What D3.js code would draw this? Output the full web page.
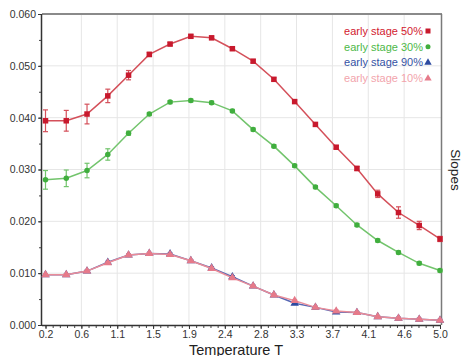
<!DOCTYPE html>
<html><head><meta charset="utf-8">
<script src="https://cdn.jsdelivr.net/npm/d3@7"></script>
<style>body{margin:0;background:#fff}svg{display:block;font-family:"Liberation Sans",Arial,sans-serif}</style>
</head><body>
<svg id="c" width="467" height="356"></svg>
<script>
const xStart = 0.2, xEnd = 5.0, nPts = 20;
const temps = d3.range(nPts).map(i => xStart + i * (xEnd - xStart) / (nPts - 1));
const xTickValues = d3.range(12).map(k => xStart + k * (xEnd - xStart) / 11);
const xTickLabels = ["0.2","0.6","1.1","1.5","1.9","2.4","2.8","3.3","3.7","4.1","4.6","5.0"];
const yTickValues = [0, 0.01, 0.02, 0.03, 0.04, 0.05, 0.06];
const yTickLabels = ["0.000","0.010","0.020","0.030","0.040","0.050","0.060"];

const seriesNames = ["early stage 50%", "early stage 30%", "early stage 90%", "early stage 10%"];
const s50 = [0.0394,0.0394,0.0407,0.0442,0.0482,0.0522,0.0542,0.0557,0.0554,0.0533,0.0509,0.0474,0.0431,0.0387,0.0343,0.0302,0.0253,0.0217,0.0192,0.0166];
const e50 = [0.0021,0.0020,0.0019,0.0013,0.0009,0.0004,0.0003,0.0003,0.0003,0.0003,0.0003,0.0003,0.0003,0.0003,0.0003,0.0004,0.0007,0.0011,0.0008,0.0005];
const s30 = [0.0280,0.0283,0.0298,0.0329,0.0370,0.0407,0.0430,0.0433,0.0429,0.0413,0.0377,0.0345,0.0307,0.0266,0.0230,0.0193,0.0163,0.0140,0.0119,0.0105];
const e30 = [0.0018,0.0016,0.0014,0.0011,0.0004,0.0003,0.0003,0.0003,0.0003,0.0003,0.0003,0.0003,0.0003,0.0003,0.0003,0.0003,0.0003,0.0003,0.0003,0.0003];
const s90 = [0.0097,0.0097,0.0104,0.0121,0.0135,0.0138,0.0137,0.0124,0.0110,0.0093,0.0075,0.0058,0.0042,0.0034,0.0025,0.0024,0.0016,0.0013,0.0011,0.0009];
const e90 = [0.0002,0.0002,0.0002,0.0002,0.0002,0.0002,0.0002,0.0002,0.0002,0.0002,0.0002,0.0002,0.0002,0.0002,0.0002,0.0002,0.0002,0.0002,0.0002,0.0002];
const s10 = [0.0097,0.0097,0.0104,0.0120,0.0135,0.0138,0.0136,0.0124,0.0109,0.0091,0.0075,0.0058,0.0047,0.0034,0.0027,0.0024,0.0016,0.0013,0.0011,0.0009];
const e10 = [0.0002,0.0002,0.0002,0.0002,0.0002,0.0002,0.0002,0.0002,0.0002,0.0002,0.0002,0.0002,0.0002,0.0002,0.0002,0.0002,0.0002,0.0002,0.0002,0.0002];

const series = [
  {name: seriesNames[0], v: s50, e: e50, line: "#d4505a", mark: "#c8192d", text: "#d2202f", shape: "square"},
  {name: seriesNames[1], v: s30, e: e30, line: "#72c46c", mark: "#40ae3e", text: "#4db848", shape: "circle"},
  {name: seriesNames[2], v: s90, e: e90, line: "#5868b4", mark: "#2c4aa0", text: "#3452a4", shape: "triangle"},
  {name: seriesNames[3], v: s10, e: e10, line: "#ea8c98", mark: "#e67a8a", text: "#f2a4ac", shape: "triangle"}
];

const svg = d3.select("#c");
const L = 42, R = 441, T = 14, B = 325;
const x = d3.scaleLinear().domain([xStart, xEnd]).range([45.5, 440]);
const y = d3.scaleLinear().domain([0, 0.06]).range([B, T]);

// gridlines
svg.append("g").selectAll("line").data(xTickValues.slice(1, -1)).join("line")
  .attr("x1", d => x(d)).attr("x2", d => x(d)).attr("y1", T).attr("y2", B)
  .attr("stroke", "#e6e6e6").attr("stroke-width", 1);
svg.append("g").selectAll("line").data(yTickValues.slice(1, -1)).join("line")
  .attr("x1", L).attr("x2", R).attr("y1", d => y(d)).attr("y2", d => y(d))
  .attr("stroke", "#e6e6e6").attr("stroke-width", 1);

// border top/right
svg.append("line").attr("x1", L).attr("x2", R + 1).attr("y1", T).attr("y2", T).attr("stroke", "#8a8a8a").attr("stroke-width", 2);
svg.append("line").attr("x1", R + 0.5).attr("x2", R + 0.5).attr("y1", T).attr("y2", B).attr("stroke", "#7a7a7a").attr("stroke-width", 1.5);

// axes
const xMinor = d3.range(56).map(k => xStart + k * (xEnd - xStart) / 55);
const xAxisMinor = d3.axisBottom(x).tickValues(xMinor).tickSize(3).tickFormat("");
svg.append("g").attr("transform", `translate(0,${B})`).call(xAxisMinor)
  .call(g => g.select(".domain").remove()).selectAll("line").attr("stroke", "#444");
const xAxis = d3.axisBottom(x).tickValues(xTickValues).tickSize(4).tickPadding(2)
  .tickFormat((d, i) => xTickLabels[i]);
const gx = svg.append("g").attr("transform", `translate(0,${B})`).call(xAxis);
gx.select(".domain").attr("d", `M${L},0.5H${R}`).attr("stroke", "#333").attr("stroke-width", 1.5);
gx.selectAll("text").attr("font-size", 10.5).attr("fill", "#333");
gx.selectAll("line").attr("stroke", "#333");

const yMinor = d3.range(13).map(k => k * 0.005);
svg.append("g").attr("transform", `translate(${L},0)`)
  .call(d3.axisLeft(y).tickValues(yMinor).tickSize(3).tickFormat(""))
  .call(g => g.select(".domain").remove()).selectAll("line").attr("stroke", "#444");
const gy = svg.append("g").attr("transform", `translate(${L},0)`)
  .call(d3.axisLeft(y).tickValues(yTickValues).tickSize(4).tickPadding(2).tickFormat((d, i) => yTickLabels[i]));
gy.select(".domain").attr("d", `M-0.5,${T}V${B}`).attr("stroke", "#333").attr("stroke-width", 1.5);
gy.selectAll("text").attr("font-size", 10.5).attr("fill", "#333");
gy.selectAll("line").attr("stroke", "#333");

// series
const lineGen = d3.line().x((d, i) => x(temps[i])).y(d => y(d));
function marker(g, shape, color, size) {
  if (shape === "square") g.append("rect").attr("x", -size/2).attr("y", -size/2).attr("width", size).attr("height", size).attr("fill", color);
  else if (shape === "circle") g.append("circle").attr("r", size/2).attr("fill", color);
  else g.append("path").attr("d", d3.symbol(d3.symbolTriangle, size*size*0.55)()).attr("fill", color);
}
series.forEach(s => {
  const g = svg.append("g");
  g.append("path").datum(s.v).attr("d", lineGen).attr("fill", "none").attr("stroke", s.line).attr("stroke-width", 1.5);
  s.v.forEach((v, i) => {
    const cx = x(temps[i]);
    const e = s.e[i];
    g.append("line").attr("x1", cx).attr("x2", cx).attr("y1", y(v - e)).attr("y2", y(v + e)).attr("stroke", s.line).attr("stroke-width", 1.2);
    [v - e, v + e].forEach(w => g.append("line").attr("x1", cx - 2.5).attr("x2", cx + 2.5).attr("y1", y(w)).attr("y2", y(w)).attr("stroke", s.line).attr("stroke-width", 1.2));
    const m = g.append("g").attr("transform", `translate(${cx},${y(v)})`);
    marker(m, s.shape, s.mark, s.shape === "triangle" ? 7.5 : 5.5);
  });
});

// legend
const lg = svg.append("g");
series.forEach((s, i) => {
  const yy = 31 + i * 15.8;
  lg.append("text").attr("x", 423).attr("y", yy).attr("dy", "0.35em").attr("text-anchor", "end")
    .attr("font-size", 11).attr("fill", s.text).text(s.name);
  const m = lg.append("g").attr("transform", `translate(428,${yy})`);
  marker(m, s.shape, s.mark, s.shape === "triangle" ? 6.5 : 5);
});

// axis titles
svg.append("text").attr("x", 236).attr("y", 354.5).attr("text-anchor", "middle").attr("font-size", 14.5).attr("fill", "#222").text("Temperature T");
svg.append("text").attr("transform", "translate(451,170) rotate(90)").attr("text-anchor", "middle").attr("font-size", 13.5).attr("fill", "#222").text("Slopes");
</script>
</body></html>
